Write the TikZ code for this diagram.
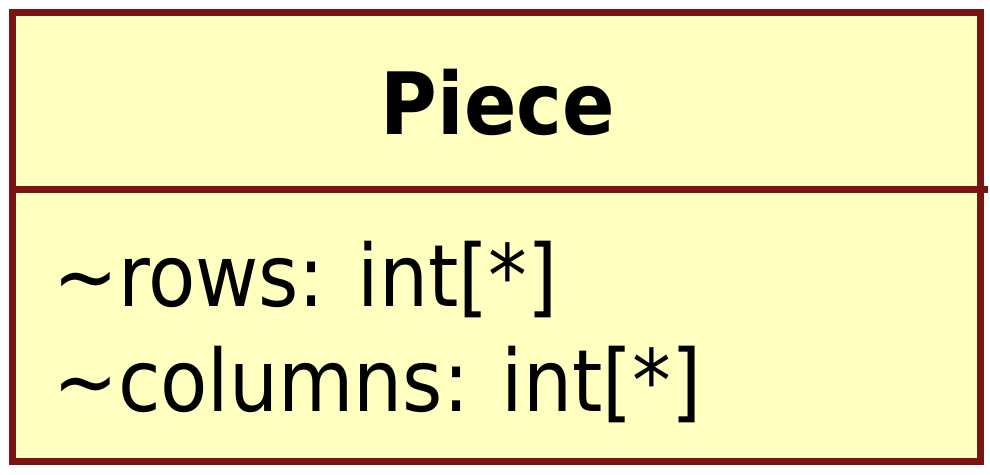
\documentclass[tikz,border=0pt]{standalone}
\usepackage{fontspec}
\setmainfont{DejaVu Sans Condensed}
\definecolor{umlfill}{HTML}{FFFFC0}
\definecolor{umlline}{HTML}{781510}
\begin{document}
\begin{tikzpicture}[x=1pt,y=-1pt,
  boxline/.style={draw=umlline,line width=7pt},
  attr/.style={anchor=base west,inner sep=0pt,font=\fontsize{86}{100}\selectfont},
  title/.style={anchor=base,inner sep=0pt,font=\fontsize{86}{100}\selectfont\bfseries}]
\useasboundingbox (0,0) rectangle (990,474);
\path[boxline,fill=umlfill] (12,12) rectangle (980,461.5);
\coordinate (divL) at (12,189.5);
\coordinate (divR) at (988,189.5);
\draw[boxline] (divL) -- (divR);
\node[title] (name) at (498,134) {Piece};
\node[attr] (a1) at (53,306) {\char`\~rows: int[*]};
\node[attr] (a2) at (53,411) {\char`\~columns: int[*]};
\end{tikzpicture}
\end{document}
